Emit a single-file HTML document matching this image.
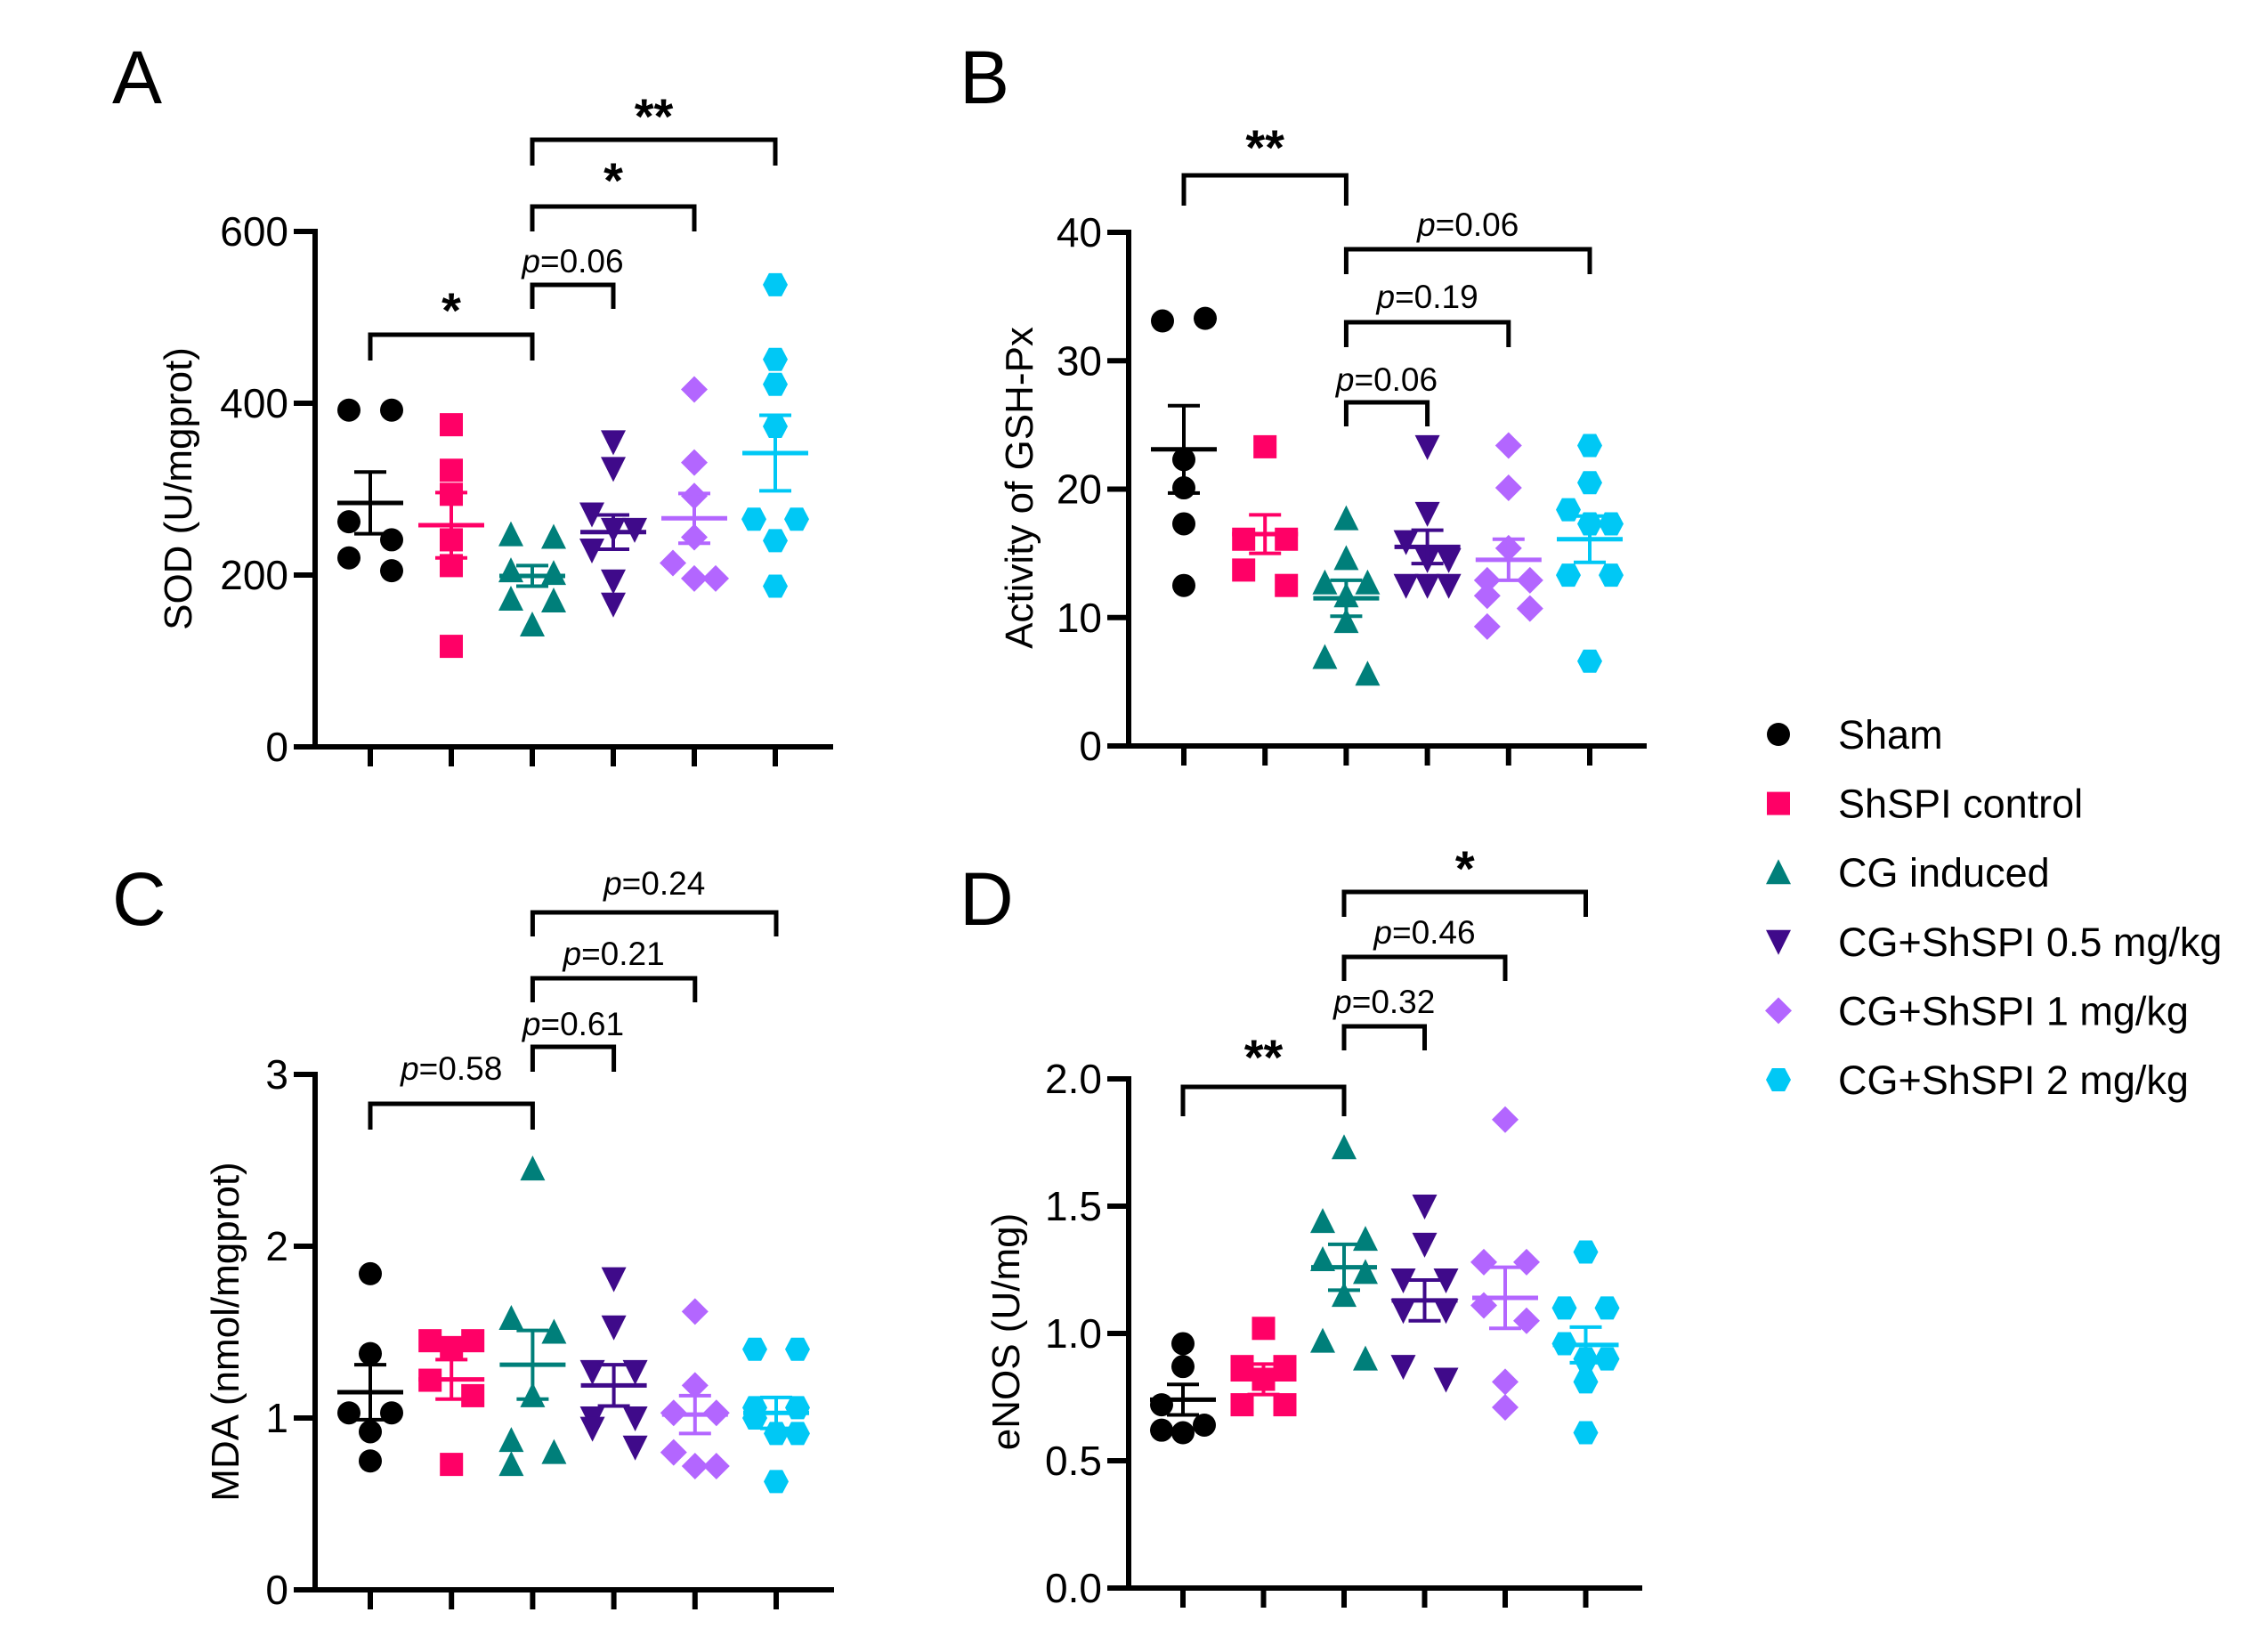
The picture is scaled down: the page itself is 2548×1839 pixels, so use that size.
<!DOCTYPE html>
<html><head><meta charset="utf-8">
<style>
html,body{margin:0;padding:0;background:#fff;}
svg{display:block;}
text{font-family:"Liberation Sans",Arial,sans-serif;fill:#000;}
</style></head>
<body>
<svg id="fig" width="2548" height="1839" viewBox="0 0 2548 1839" xmlns="http://www.w3.org/2000/svg"></svg>
<script>
const groups = ["Sham","ShSPI control","CG induced","CG+ShSPI 0.5 mg/kg","CG+ShSPI 1 mg/kg","CG+ShSPI 2 mg/kg"];
const colors = ["#000000","#ff0066","#007f7a","#3f0a8a","#b366ff","#00c8f5"];
const shapes = ["circle","square","triangle","invtriangle","diamond","hexagon"];

// Panel A: SOD
const sodValues = [
  [392,392,262,241,220,205],
  [375,322,294,241,211,117],
  [247,244,205,202,172,170,142],
  [355,324,271,253,253,229,193,166],
  [416,331,292,244,214,196,196],
  [538,451,422,373,265,265,240,187]
];
const sodMean = [284,258,199,250,266,342];
const sodSem = [36,38,12,20,29,44];
// Panel B: GSH-Px
const gshValues = [
  [33.1,33.3,22.3,20.1,17.3,12.5],
  [23.3,16.1,16.1,13.7,12.5],
  [17.7,14.6,12.7,12.7,11.7,9.7,6.9,5.6],
  [23.3,18.1,15.9,14.5,14.5,12.5,12.5,12.5],
  [23.4,20.1,15.4,12.9,12.9,11.7,10.7,9.3],
  [23.4,20.5,18.4,17.3,17.3,13.3,13.3,6.6]
];
const gshMean = [23.1,16.5,11.5,15.5,14.5,16.1];
const gshSem = [3.4,1.5,1.4,1.3,1.6,1.8];
// Panel C: MDA
const mdaValues = [
  [1.84,1.375,1.03,1.03,0.92,0.75],
  [1.45,1.45,1.41,1.22,1.13,0.73],
  [2.45,1.58,1.50,1.13,0.87,0.80,0.73],
  [1.81,1.53,1.27,1.27,1.0,1.0,0.94,0.83],
  [1.62,1.19,1.03,1.03,0.80,0.72,0.72],
  [1.40,1.40,1.06,1.06,1.0,0.91,0.91,0.63]
];
const mdaMean = [1.15,1.225,1.31,1.19,1.02,1.03];
const mdaSem = [0.16,0.115,0.2,0.12,0.11,0.09];
// Panel D: eNOS
const enosValues = [
  [0.96,0.87,0.72,0.64,0.62,0.61],
  [1.02,0.87,0.87,0.82,0.72,0.72],
  [1.73,1.44,1.37,1.29,1.24,1.15,0.97,0.90],
  [1.50,1.35,1.21,1.21,1.09,1.09,0.87,0.82],
  [1.84,1.28,1.28,1.11,1.05,0.81,0.71],
  [1.32,1.10,1.10,0.96,0.90,0.90,0.81,0.61]
];
const enosMean = [0.74,0.82,1.26,1.13,1.14,0.955];
const enosSem = [0.06,0.06,0.09,0.08,0.12,0.07];

const sodTicks = [0,200,400,600];
const gshTicks = [0,10,20,30,40];
const mdaTicks = [0,1,2,3];
const enosTicks = ["0.0","0.5","1.0","1.5","2.0"];

const NS = "http://www.w3.org/2000/svg";
const svg = document.getElementById("fig");
function mk(tag, attrs, parent){
  const e = document.createElementNS(NS, tag);
  for (const k in attrs) e.setAttribute(k, attrs[k]);
  (parent||svg).appendChild(e);
  return e;
}

function marker(g, shape, cx, cy, col){
  const r = 13;
  let e;
  if (shape==="circle"){ e = mk("circle",{cx:cx,cy:cy,r:r,fill:col},g); }
  else if (shape==="square"){ e = mk("rect",{x:cx-r,y:cy-r,width:2*r,height:2*r,fill:col},g); }
  else if (shape==="triangle"){ e = mk("polygon",{points:`${cx},${cy-r-2} ${cx+r+1},${cy+r} ${cx-r-1},${cy+r}`,fill:col},g); }
  else if (shape==="invtriangle"){ e = mk("polygon",{points:`${cx-r-1},${cy-r} ${cx+r+1},${cy-r} ${cx},${cy+r+2}`,fill:col},g); }
  else if (shape==="diamond"){ e = mk("polygon",{points:`${cx},${cy-r-2} ${cx+r+2},${cy} ${cx},${cy+r+2} ${cx-r-2},${cy}`,fill:col},g); }
  else { const a=r*0.55; e = mk("polygon",{points:`${cx-a},${cy-r} ${cx+a},${cy-r} ${cx+r+1},${cy} ${cx+a},${cy+r} ${cx-a},${cy+r} ${cx-r-1},${cy}`,fill:col},g); }
  return e;
}

function panel(cfg){
  const g = mk("g",{});
  
  
  const ys = v => cfg.y0 - (v - 0) / cfg.ymax * (cfg.y0 - cfg.ytop);
  const xs = i => cfg.cat0 + i * cfg.dx;
  const L = mk("text",{x:cfg.letterX,y:cfg.letterY,"font-size":84},g);
  L.textContent = cfg.letter;
  
  
  const yAxis = mk("line",{x1:cfg.ax,y1:cfg.ytop-3,x2:cfg.ax,y2:cfg.y0+3,stroke:"#000","stroke-width":6},g);
  
  
  const xAxis = mk("line",{x1:cfg.ax-24,y1:cfg.y0,x2:cfg.xend,y2:cfg.y0,stroke:"#000","stroke-width":6},g);
  
  
  cfg.ticks.forEach(t=>{
    const v = parseFloat(t), y = ys(v);
    if (v>0) mk("line",{x1:cfg.ax-24,y1:y,x2:cfg.ax,y2:y,stroke:"#000","stroke-width":6},g);
    const tl = mk("text",{x:cfg.ax-30,y:y+16,"font-size":46,"text-anchor":"end"},g);
    tl.textContent = t;
    
    
  });
  for (let i=0;i<6;i++){
    mk("line",{x1:xs(i),y1:cfg.y0,x2:xs(i),y2:cfg.y0+22,stroke:"#000","stroke-width":6},g);
  }
  const yt = mk("text",{x:0,y:0,"font-size":44,"text-anchor":"middle",transform:`translate(${cfg.titleX},${cfg.titleY}) rotate(-90)`},g);
  yt.textContent = cfg.title;
  
  
  for (let i=0;i<6;i++){
    const gg = mk("g",{},g);
    
    
    const vals = cfg.values[i];
    const placed = [];
    vals.forEach(v=>{
      const y = ys(v);
      const near = placed.filter(p=>Math.abs(p.y-y)<24);
      let off = 0;
      if (near.length){
        const used = near.map(p=>p.o);
        const cands=[-24,24,0,-44,44];
        off = cands.find(c=>!used.includes(c));
        if (off===undefined) off=0;
        if (near.length===1 && used[0]===0){ near[0].o=-24; near[0].move(-24); off=24; }
      }
      const rec = {y:y,o:off};
      const el = marker(gg, shapes[i], xs(i)+off, y, colors[i]);
      
      
      rec.move = (o)=>{ el.setAttribute("transform",`translate(${o},0)`); };
      placed.push(rec);
    });
    const m = cfg.mean[i], s = cfg.sem[i];
    const ml = mk("line",{x1:xs(i)-37,y1:ys(m),x2:xs(i)+37,y2:ys(m),stroke:colors[i],"stroke-width":5},gg);
    
    
    const el = mk("path",{d:`M${xs(i)},${ys(m+s)}V${ys(m-s)}M${xs(i)-18},${ys(m+s)}H${xs(i)+18}M${xs(i)-18},${ys(m-s)}H${xs(i)+18}`,stroke:colors[i],"stroke-width":4,fill:"none"},gg);
    
    
  }
  cfg.brackets.forEach(b=>{
    const x1 = xs(b[0]), x2 = xs(b[1]);
    const br = mk("path",{d:`M${x1},${b[3]}V${b[2]}H${x2}V${b[3]}`,stroke:"#000","stroke-width":5,fill:"none"},g);
    
    
    const isStar = b[4].startsWith("*");
    const t = mk("text",{x:(x1+x2)/2,y:b[5],"text-anchor":"middle","font-size":isStar?56:37,"font-weight":isStar?"bold":"normal"},g);
    if (isStar) { t.textContent = b[4]; }
    else {
      const p = mk("tspan",{"font-style":"italic"},t); p.textContent="p";
      const r = mk("tspan",{},t); r.textContent = b[4].slice(1);
    }
    
    
  });
}

panel({name:"panel-a-sod",letter:"A",letterX:126,letterY:116,ax:354,y0:839,ytop:260,ymax:600,cat0:416,dx:91,xend:936,
  ticks:sodTicks,title:"SOD (U/mgprot)",titleX:215,titleY:549,values:sodValues,mean:sodMean,sem:sodSem,
  brackets:[[0,2,376,405,"*",368],[2,3,320,347,"p=0.06",306],[2,4,232,260,"*",222],[2,5,157,186,"**",150]]});
panel({name:"panel-b-gsh-px",letter:"B",letterX:1078,letterY:116,ax:1268,y0:838,ytop:261,ymax:40,cat0:1330,dx:91.2,xend:1850,
  ticks:gshTicks,title:"Activity of GSH-Px",titleX:1160,titleY:548,values:gshValues,mean:gshMean,sem:gshSem,
  brackets:[[0,2,197,231,"**",185],[2,3,452,479,"p=0.06",439],[2,4,362,390,"p=0.19",346],[2,5,280,308,"p=0.06",265]]});
panel({name:"panel-c-mda",letter:"C",letterX:126,letterY:1039,ax:354,y0:1786,ytop:1207,ymax:3,cat0:416,dx:91.2,xend:937,
  ticks:mdaTicks,title:"MDA (nmol/mgprot)",titleX:268,titleY:1496,values:mdaValues,mean:mdaMean,sem:mdaSem,
  brackets:[[0,2,1240,1269,"p=0.58",1213],[2,3,1176,1204,"p=0.61",1163],[2,4,1099,1126,"p=0.21",1084],[2,5,1025,1052,"p=0.24",1005]]});
panel({name:"panel-d-enos",letter:"D",letterX:1078,letterY:1039,ax:1268,y0:1784,ytop:1212,ymax:2,cat0:1329,dx:90.5,xend:1845,
  ticks:enosTicks,title:"eNOS (U/mg)",titleX:1145,titleY:1496,values:enosValues,mean:enosMean,sem:enosSem,
  brackets:[[0,2,1221,1254,"**",1207],[2,3,1153,1180,"p=0.32",1138],[2,4,1075,1102,"p=0.46",1060],[2,5,1002,1030,"*",995]]});

const lg = mk("g",{});


groups.forEach((name,i)=>{
  const y = 825 + i*77.6;
  const e = mk("g",{},lg);
  
  
  const m = marker(e, shapes[i], 1998, y, colors[i]);
  
  
  const t = mk("text",{x:2065,y:y+16,"font-size":45},e);
  t.textContent = name;
  
  
});
</script>
</body></html>
